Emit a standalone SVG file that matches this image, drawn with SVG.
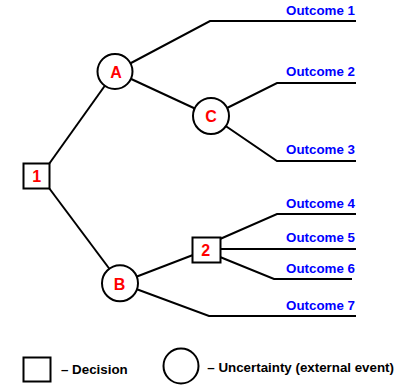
<svg xmlns="http://www.w3.org/2000/svg" width="400" height="391" viewBox="0 0 400 391">
<style>
.c{fill:none;stroke:#000;stroke-width:2}
.n{fill:#fff;stroke:#000;stroke-width:2}
.lbl{font-family:"Liberation Sans",Arial,sans-serif;font-weight:bold;font-size:16px;fill:#ff0000;text-anchor:middle}
.out{font-family:"Liberation Sans",Arial,sans-serif;font-weight:bold;font-size:13.33px;fill:#0000ff;text-anchor:end}
.leg{font-family:"Liberation Sans",Arial,sans-serif;font-weight:bold;font-size:13.33px;fill:#000}
</style>
<rect width="400" height="391" fill="#fff"/>
<g id="connectors">
<polyline class="c" points="49,164 115,71.5"/>
<polyline class="c" points="49,188 120,283"/>
<polyline class="c" points="115,71.5 210,21 356,21"/>
<polyline class="c" points="115,71.5 211,116"/>
<polyline class="c" points="211,116 277,83 356,83"/>
<polyline class="c" points="211,116 277,161 356,161"/>
<polyline class="c" points="120,283 206,250"/>
<polyline class="c" points="220,239 277,214 356,214"/>
<polyline class="c" points="220,249 356,249"/>
<polyline class="c" points="220,257 274,279 352,279"/>
<polyline class="c" points="120,283 209,316 356,316"/>
</g>
<g id="node-1"><rect class="n" x="23.5" y="163.5" width="26" height="25"/><text class="lbl" x="36.7" y="181.5">1</text></g>
<g id="node-A"><circle class="n" cx="115" cy="71.5" r="17.5"/><text class="lbl" x="116" y="78">A</text></g>
<g id="node-C"><circle class="n" cx="211" cy="116" r="18"/><text class="lbl" x="211" y="122">C</text></g>
<g id="node-B"><circle class="n" cx="120" cy="283.3" r="18"/><text class="lbl" x="119.5" y="289.5">B</text></g>
<g id="node-2"><rect class="n" x="192.5" y="237.5" width="28" height="25"/><text class="lbl" x="205.7" y="256">2</text></g>
<g id="outcomes">
<text class="out" x="355" y="15">Outcome 1</text>
<text class="out" x="355" y="76">Outcome 2</text>
<text class="out" x="355" y="154">Outcome 3</text>
<text class="out" x="355" y="208.3">Outcome 4</text>
<text class="out" x="355" y="242.3">Outcome 5</text>
<text class="out" x="355" y="272.7">Outcome 6</text>
<text class="out" x="355" y="310">Outcome 7</text>
</g>
<g id="legend">
<rect class="n" x="23.5" y="357.5" width="27" height="24"/>
<text class="leg" x="61" y="374.3">– Decision</text>
<circle class="n" cx="181" cy="366" r="17.5"/>
<text class="leg" x="207.3" y="371.7">– Uncertainty (external event)</text>
</g>
</svg>
